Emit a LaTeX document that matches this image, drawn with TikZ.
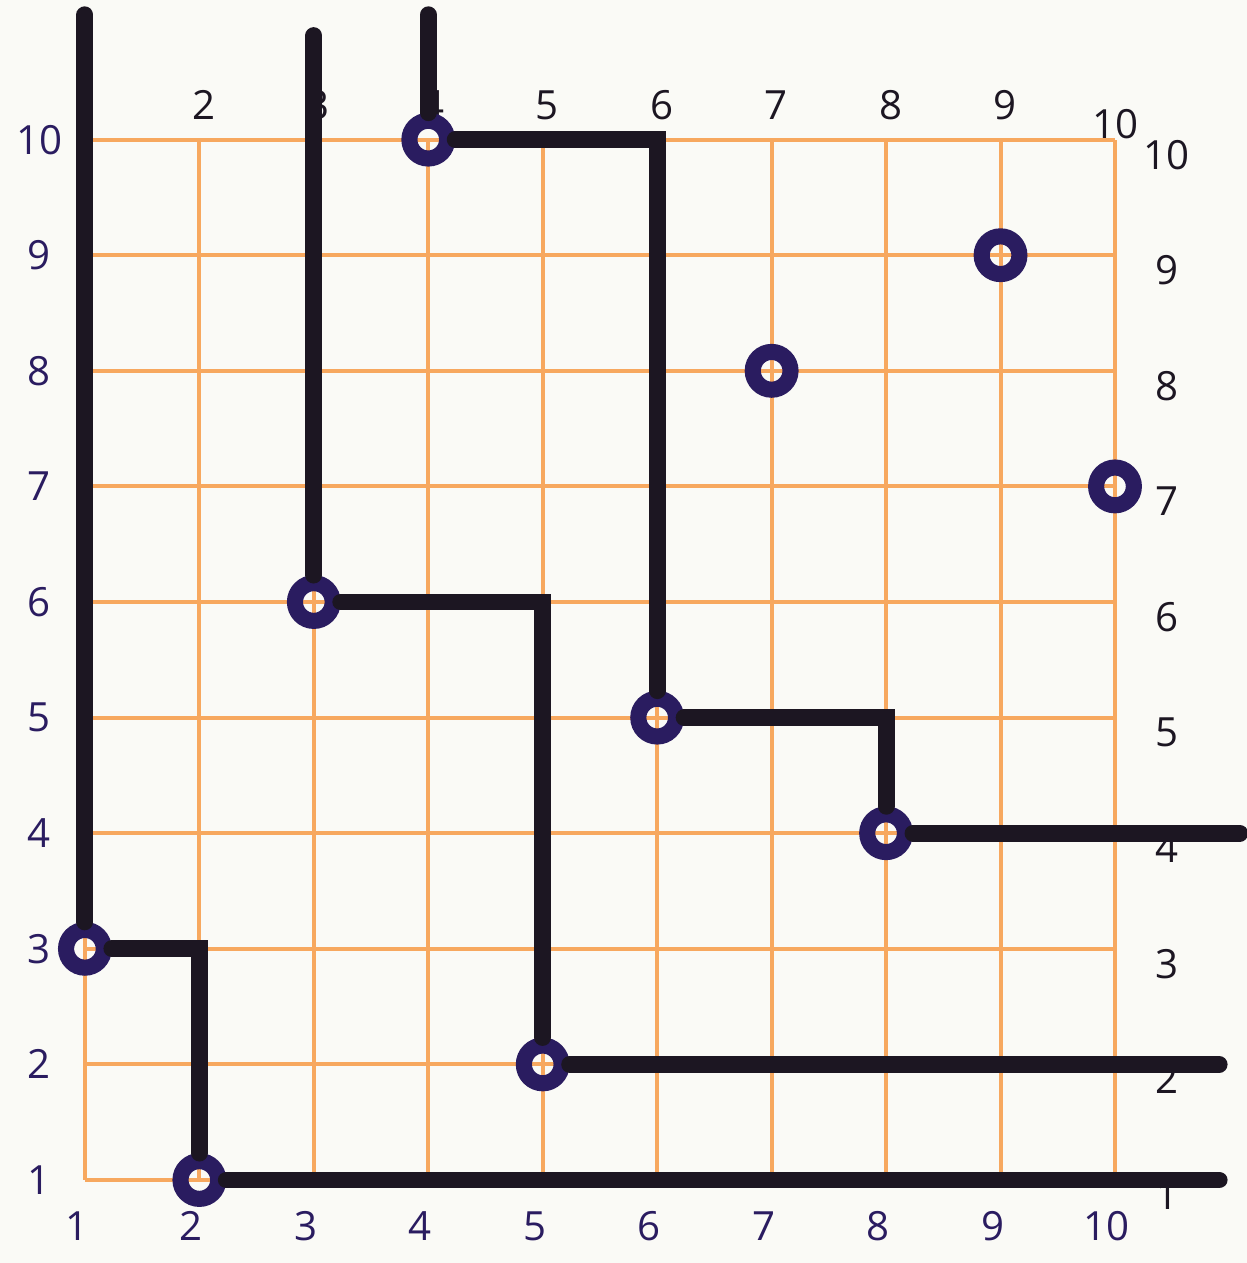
\documentclass[tikz,border=0pt]{standalone}
\usepackage{fontspec}
\setmainfont{Open Sans}
\usepackage{tikz}
\definecolor{myPaper}{RGB}{250,250,246}
\definecolor{myGrid}{RGB}{247,168,95}
\definecolor{myInk}{RGB}{28,22,34}
\definecolor{myNavy}{RGB}{42,28,96}

\begin{document}
\begin{tikzpicture}[
    x=1cm, y=1.01cm,
    gridline/.style={draw=myGrid, line width=1pt},
    wire/.style={draw=myInk, line width=4.2pt, line cap=round},
    ring/.style={circle, draw=myNavy, line width=4pt, fill=none, inner sep=0pt, minimum size=0.33cm},
    blabel/.style={font=\normalsize, text=myNavy},
    klabel/.style={font=\normalsize, text=myInk}
]
    \fill[myPaper] (0.258,0.282) rectangle (11.149,11.208);
    \useasboundingbox (0.258,0.282) rectangle (11.149,11.208);

    % grid
    \foreach \i in {1,...,10} {
        \draw[gridline] (\i,1) -- (\i,10);
        \draw[gridline] (1,\i) -- (10,\i);
    }

    % numbers round the grid
    \foreach \i in {1,...,10} {
        \node[blabel] (left\i) at (0.6,\i) {\i};
        \node[blabel] (bot\i) at (\i-0.07,0.6) {\i};
    }
    \foreach \i in {1,...,9} {
        \node[klabel] (top\i) at (\i+0.04,10.3) {\i};
    }
    \node[klabel] (top10) at (10.0,10.13) {10};

    % rings
    \node[ring] (c13) at (1,3) {};
    \node[ring] (c21) at (2,1) {};
    \node[ring] (c36) at (3,6) {};
    \node[ring] (c52) at (5,2) {};
    \node[ring] (c410) at (4,10) {};
    \node[ring] (c65) at (6,5) {};
    \node[ring] (c84) at (8,4) {};
    \node[ring] (c78) at (7,8) {};
    \node[ring] (c99) at (9,9) {};
    \node[ring] (c107) at (10,7) {};

    % free ends
    \coordinate (in1) at (1,11.08);
    \coordinate (in3) at (3,10.9);
    \coordinate (in4) at (4,11.08);
    \coordinate (out1) at (10.91,1);
    \coordinate (out2) at (10.91,2);
    \coordinate (out4) at (11.09,4);

    % wires
    \draw[wire] (in1) -- (c13);
    \draw[wire] (c13) -| (c21);
    \draw[wire] (c21) -- (out1);
    \draw[wire] (in3) -- (c36);
    \draw[wire] (c36) -| (c52);
    \draw[wire] (c52) -- (out2);
    \draw[wire] (in4) -- (c410);
    \draw[wire] (c410) -| (c65);
    \draw[wire] (c65) -| (c84);
    \draw[wire] (c84) -- (out4);

    % right-hand numbers, written over the wires
    \foreach \i in {1,...,10} {
        \node[klabel] (right\i) at (10.45,\i-0.13) {\i};
    }
\end{tikzpicture}
\end{document}
